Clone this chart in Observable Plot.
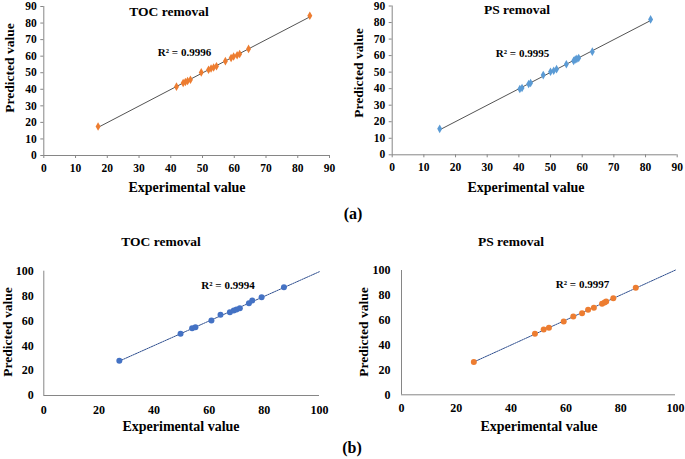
<!DOCTYPE html>
<html>
<head>
<meta charset="utf-8">
<script src="https://cdn.jsdelivr.net/npm/d3@7"></script>
<script src="https://cdn.jsdelivr.net/npm/@observablehq/plot@0.6"></script>
<style>
  body { margin: 0; background: #fff; }
  #wrap { position: relative; width: 685px; height: 459px; overflow: hidden; font-family: "Liberation Serif", "Times New Roman", serif; font-weight: bold; color: #000; }
  #wrap svg { position: absolute; overflow: visible; }
  #wrap svg text, #wrap svg g { font-family: "Liberation Serif", "Times New Roman", serif !important; font-weight: bold !important; }
  .lbl { position: absolute; transform: translate(-50%, -50%); white-space: nowrap; line-height: 1; }
  .rot { transform: translate(-50%, -50%) rotate(-90deg); }
</style>
</head>
<body>
<div id="wrap"></div>
<script>
// ---- Data ----
const ticksA = [0, 10, 20, 30, 40, 50, 60, 70, 80, 90];
const ticksB = [0, 20, 40, 60, 80, 100];

const tocA_exp  = [17.1, 41.8, 43.9, 44.6, 45.3, 46.2, 49.6, 51.9, 52.7, 53.5, 54.4, 57.2, 59.0, 59.8, 60.9, 61.7, 64.5, 83.8];
const tocA_pred = [17.5, 41.6, 43.8, 44.4, 45.0, 45.8, 50.2, 51.8, 52.5, 53.2, 53.9, 57.0, 58.9, 59.8, 60.6, 61.3, 64.4, 84.4];

const psA_exp  = [15.0, 40.3, 41.0, 43.1, 43.7, 47.7, 50.0, 51.0, 51.9, 55.0, 57.3, 57.8, 58.3, 58.9, 63.2, 81.6];
const psA_pred = [15.7, 39.8, 40.4, 42.8, 43.4, 48.2, 50.2, 50.8, 51.8, 54.8, 56.8, 57.6, 58.0, 58.5, 62.4, 81.9];

const tocB_exp  = [27.4, 49.6, 53.8, 55.0, 60.8, 64.1, 67.5, 68.9, 69.9, 71.1, 74.4, 75.6, 79.0, 87.1];
const tocB_pred = [27.9, 49.6, 54.2, 55.0, 60.3, 64.9, 67.0, 68.4, 69.2, 70.2, 74.3, 76.4, 79.1, 87.1];

const psB_exp  = [26.4, 48.7, 51.9, 53.8, 59.2, 62.7, 65.9, 68.1, 70.2, 73.2, 74.1, 74.7, 77.3, 85.5];
const psB_pred = [26.3, 49.1, 52.5, 53.9, 59.0, 63.0, 65.7, 68.4, 70.0, 73.2, 74.3, 75.1, 77.7, 86.1];

const titles = ["TOC removal", "PS removal", "TOC removal", "PS removal"];
const r2 = ["R² = 0.9996", "R² = 0.9995", "R² = 0.9994", "R² = 0.9997"];
const xTitle = "Experimental value";
const yTitle = "Predicted value";
const partLabels = ["(a)", "(b)"];

const SERIF = "Liberation Serif";

// ---- helpers ----
function fit(xs, ys) {
  const mx = d3.mean(xs), my = d3.mean(ys);
  const b = d3.sum(xs, (x, i) => (x - mx) * (ys[i] - my)) / d3.sum(xs, x => (x - mx) ** 2);
  return {b, a: my - b * mx};
}

function panel(cfg) {
  const pts = cfg.xs.map((x, i) => ({x, y: cfg.ys[i]}));
  const {a, b} = fit(cfg.xs, cfg.ys);
  const x0 = d3.min(cfg.xs);
  const x1 = cfg.extend ? cfg.ticks[cfg.ticks.length - 1] : d3.max(cfg.xs);
  const trend = [x0, x1].map(x => ({x, y: a + b * x}));
  const dom = [cfg.ticks[0], cfg.ticks[cfg.ticks.length - 1]];
  const fontOpts = {fontFamily: SERIF, fontWeight: "bold", fontSize: cfg.fs};
  const svg = Plot.plot({
    width: cfg.w, height: cfg.h,
    marginLeft: cfg.ml, marginRight: cfg.mr, marginTop: cfg.mt, marginBottom: cfg.mb,
    x: {domain: dom, ticks: cfg.ticks},
    y: {domain: dom, ticks: cfg.ticks},
    style: {fontFamily: SERIF, fontWeight: "bold", fontSize: cfg.fs + "px", background: "transparent"},
    marks: [
      Plot.axisX({ticks: cfg.ticks, tickSize: cfg.tick, tickPadding: cfg.xpad, label: null, stroke: "#868686", fill: "#000", tickFormat: d => d, ...fontOpts}),
      Plot.axisY({ticks: cfg.ticks, tickSize: cfg.tick, tickPadding: cfg.ypad, label: null, stroke: "#868686", fill: "#000", tickFormat: d => d, ...fontOpts}),
      Plot.ruleY([dom[0]], {stroke: "#868686", strokeWidth: 1}),
      Plot.ruleX([dom[0]], {stroke: "#868686", strokeWidth: 1}),
      Plot.line(trend, {x: "x", y: "y", stroke: cfg.lineColor, strokeWidth: cfg.lineWidth, strokeDasharray: cfg.dash}),
      Plot.dot(pts, {x: "x", y: "y", symbol: cfg.symbol, r: cfg.r, fill: cfg.color, stroke: "none"})
    ]
  });
  svg.style.left = cfg.left + "px";
  svg.style.top = cfg.top + "px";
  return svg;
}

const wrap = document.getElementById("wrap");

wrap.append(panel({xs: tocA_exp, ys: tocA_pred, ticks: ticksA, left: 0, top: 0, w: 340, h: 200,
  ml: 43.3, mr: 11, mt: 6, mb: 45, tick: 3, xpad: 5, ypad: 4, fs: 11.5,
  color: "#ED7D31", symbol: "diamond", r: 2.6, lineColor: "#404040", lineWidth: 0.9, dash: null, extend: false}));
wrap.append(panel({xs: psA_exp, ys: psA_pred, ticks: ticksA, left: 340, top: 0, w: 345, h: 200,
  ml: 51.7, mr: 8.3, mt: 5.5, mb: 45.7, tick: 3, xpad: 5, ypad: 4, fs: 11.5,
  color: "#5B9BD5", symbol: "diamond", r: 2.6, lineColor: "#404040", lineWidth: 0.9, dash: null, extend: false}));
wrap.append(panel({xs: tocB_exp, ys: tocB_pred, ticks: ticksB, left: 0, top: 255, w: 340, h: 204,
  ml: 43.3, mr: 21, mt: 15.7, mb: 64, tick: 0, xpad: 10, ypad: 10, fs: 12,
  color: "#4472C4", symbol: "circle", r: 3, lineColor: "#2F4F8F", lineWidth: 1, dash: "1.5,1", extend: true}));
wrap.append(panel({xs: psB_exp, ys: psB_pred, ticks: ticksB, left: 340, top: 255, w: 345, h: 204,
  ml: 61, mr: 10, mt: 15, mb: 64.7, tick: 0, xpad: 9, ypad: 11, fs: 12,
  color: "#ED7D31", symbol: "circle", r: 3, lineColor: "#2F4F8F", lineWidth: 1, dash: "1.5,1", extend: true}));

function label(text, x, y, size, rot) {
  const d = document.createElement("div");
  d.className = "lbl" + (rot ? " rot" : "");
  d.textContent = text;
  d.style.left = x + "px";
  d.style.top = y + "px";
  d.style.fontSize = size + "px";
  wrap.append(d);
}

// titles
label(titles[0], 169, 12, 13.5);
label(titles[1], 517, 10, 13.5);
label(titles[2], 161, 242, 13.5);
label(titles[3], 511, 242, 13.5);
// R²
label(r2[0], 184.5, 52, 11);
label(r2[1], 522.5, 53, 11);
label(r2[2], 228, 285, 11);
label(r2[3], 582.5, 284, 11);
// axis titles
label(xTitle, 187, 188, 14);
label(xTitle, 526, 188, 14);
label(xTitle, 181, 427, 14);
label(xTitle, 539, 427, 14);
label(yTitle, 10, 68, 13.5, true);
label(yTitle, 359, 73, 13.5, true);
label(yTitle, 8, 332, 13.5, true);
label(yTitle, 364, 332, 13.5, true);
// part labels
label(partLabels[0], 353, 214, 16);
label(partLabels[1], 352, 448, 16);
</script>
</body>
</html>
